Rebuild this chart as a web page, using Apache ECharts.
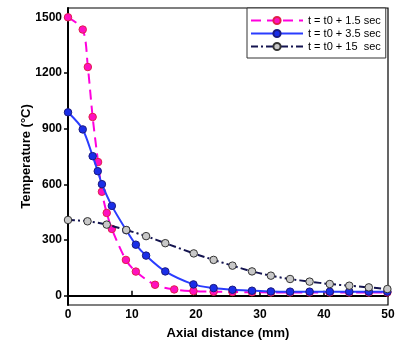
<!DOCTYPE html>
<html><head><meta charset="utf-8">
<script src="https://cdn.jsdelivr.net/npm/echarts@6/dist/echarts.min.js"></script>
<style>html,body{margin:0;padding:0;background:#fff}#c{width:396px;height:342px}</style>
</head><body><div id="c"></div>
<script>
const seriesNames = ['t = t0 + 1.5 sec', 't = t0 + 3.5 sec', 't = t0 + 15  sec'];
const xMagenta = [0, 2.3, 3.1, 3.85, 4.7, 5.3, 6.05, 6.85, 9.05, 10.6, 13.6, 16.6, 19.6, 22.75, 25.7, 28.75, 31.7, 34.7, 37.75, 40.9, 43.95, 47, 49.9];
const yMagenta = [1500, 1434, 1232, 963, 720, 560, 446, 360, 193, 130, 59, 34, 25, 22, 20, 19, 18, 18, 18, 18, 18, 18, 18];
const xBlue = [0, 2.3, 3.85, 4.65, 5.3, 6.85, 9.1, 10.6, 12.2, 15.2, 19.6, 22.75, 25.7, 28.75, 31.7, 34.7, 37.75, 40.9, 43.95, 47, 49.9];
const yBlue = [988, 896, 752, 671, 601, 484, 353, 275, 216, 131, 61, 41, 32, 27, 23, 22, 22, 22, 22, 22, 22];
const xGray = [0, 3.05, 6.05, 9.1, 12.2, 15.2, 19.65, 22.75, 25.7, 28.75, 31.7, 34.7, 37.75, 40.9, 43.95, 47, 49.9];
const yGray = [408, 401, 383, 354, 321, 283, 228, 193, 162, 131, 108, 90, 76, 63, 54, 45, 36];
const yTicks = [0, 300, 600, 900, 1200, 1500];

const zip = (xs, ys) => xs.map((x, i) => [x, ys[i]]);
const chart = echarts.init(document.getElementById('c'), null, {renderer: 'canvas'});
const lblFont = {fontFamily: 'Liberation Sans, Arial, sans-serif', fontWeight: 'bold', fontSize: 12, color: '#000'};
chart.setOption({
  animation: false,
  grid: {left: 68, right: 8, top: 8, bottom: 37, containLabel: false, outerBoundsMode: 'none', show: true, borderColor: '#000', borderWidth: 1.2, backgroundColor: 'transparent'},
  legend: {
    orient: 'vertical', left: 247, top: 8,
    backgroundColor: '#fff', borderColor: '#333', borderWidth: 1,
    padding: [6, 5, 5, 3], itemGap: 0, itemWidth: 52, itemHeight: 9,
    textStyle: {fontFamily: 'Liberation Sans, Arial, sans-serif', fontSize: 11, lineHeight: 13, color: '#000'},
    data: seriesNames
  },
  xAxis: {
    type: 'value', min: 0, max: 50, interval: 10,
    name: 'Axial distance (mm)', nameLocation: 'middle', nameGap: 22, nameMoveOverlap: false,
    nameTextStyle: {fontFamily: 'Liberation Sans, Arial, sans-serif', fontWeight: 'bold', fontSize: 13, color: '#000'},
    axisLine: {lineStyle: {color: '#000', width: 2}},
    axisTick: {inside: true, length: 5, lineStyle: {color: '#000', width: 1.5}},
    axisLabel: Object.assign({margin: 4}, lblFont),
    splitLine: {show: false}
  },
  yAxis: {
    type: 'value', min: -50, max: 1550,
    name: 'Temperature (°C)', nameLocation: 'middle', nameGap: 35, nameMoveOverlap: false,
    nameTextStyle: {fontFamily: 'Liberation Sans, Arial, sans-serif', fontWeight: 'bold', fontSize: 13, color: '#000'},
    axisLine: {show: true, lineStyle: {color: '#000', width: 2}},
    axisTick: {show: true, inside: false, length: 4, customValues: yTicks, lineStyle: {color: '#000', width: 1.5}},
    axisLabel: Object.assign({margin: 6, customValues: yTicks, formatter: v => String(v)}, lblFont),
    splitLine: {show: false}
  },
  series: [
    {
      name: seriesNames[0], type: 'line', smooth: 0.3, data: zip(xMagenta, yMagenta), z: 2,
      symbol: 'circle', symbolSize: 7.5,
      lineStyle: {color: '#ff00dd', width: 2, type: [10, 6]},
      itemStyle: {color: '#ff10c0', borderColor: '#e0204a', borderWidth: 1}
    },
    {
      name: seriesNames[1], type: 'line', smooth: 0.3, data: zip(xBlue, yBlue), z: 3,
      symbol: 'circle', symbolSize: 7.5,
      lineStyle: {color: '#2a3cff', width: 2},
      itemStyle: {color: '#1a2ee8', borderColor: '#1a1a80', borderWidth: 1}
    },
    {
      name: seriesNames[2], type: 'line', smooth: 0.3, data: zip(xGray, yGray), z: 4,
      symbol: 'circle', symbolSize: 7.5,
      lineStyle: {color: '#141450', width: 2, type: [7, 3, 2, 3]},
      itemStyle: {color: '#c8c8c8', borderColor: '#333', borderWidth: 1}
    }
  ]
});
</script></body></html>
